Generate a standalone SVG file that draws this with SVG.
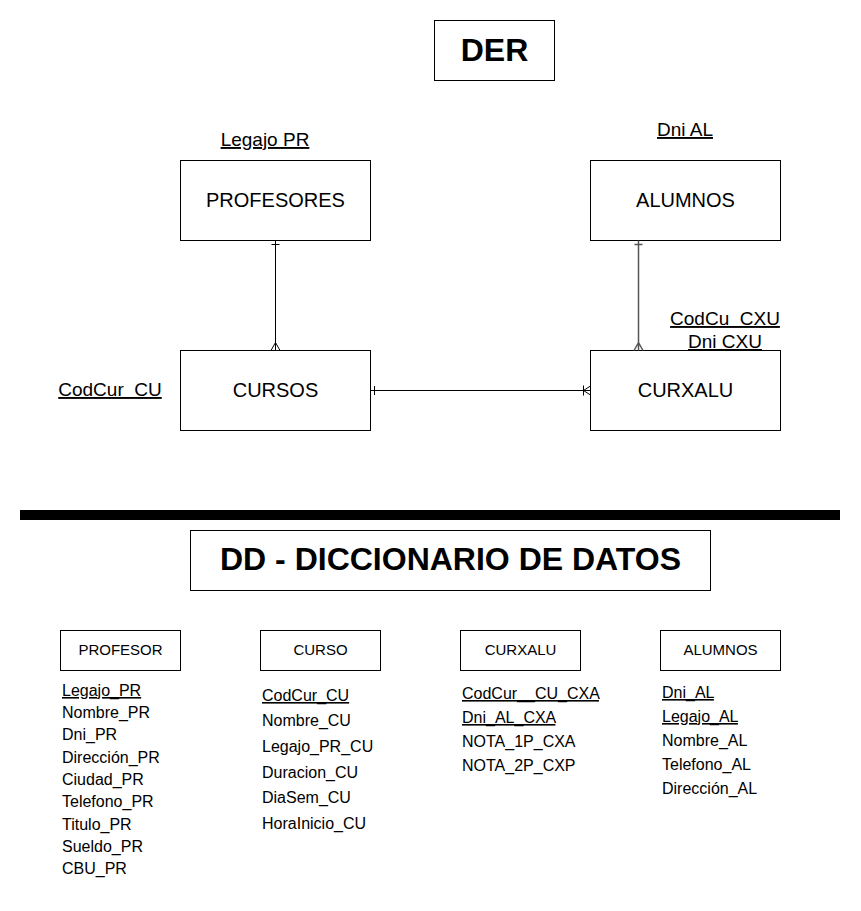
<svg xmlns="http://www.w3.org/2000/svg" width="861" height="911" viewBox="0 0 861 911">
<style>
  .box{fill:#fff;stroke:#000;stroke-width:1}
  .t{font-family:"Liberation Sans",Arial,sans-serif;fill:#000}
  .big{font-size:32px;font-weight:bold;text-anchor:middle}
  .ent{font-size:20px;text-anchor:middle}
  .lbl{font-size:19px;text-anchor:middle;text-decoration:underline}
  .hdr{font-size:15px;text-anchor:middle}
  .att{font-size:16px}
  .u{text-decoration:underline}
  .ln{fill:none;stroke:#000;stroke-width:1}
</style>
<rect width="861" height="911" fill="#fff"/>
<g id="title-der">
  <rect class="box" x="434.5" y="20.5" width="120" height="60"/>
  <text class="t big" x="494.5" y="61">DER</text>
</g>
<g id="profesores">
  <rect class="box" x="180.5" y="160.5" width="190" height="80"/>
  <text class="t ent" x="275.5" y="207">PROFESORES</text>
  <text class="t lbl" x="265" y="146">Legajo PR</text>
</g>
<g id="alumnos">
  <rect class="box" x="590.5" y="160.5" width="190" height="80"/>
  <text class="t ent" x="685.5" y="207">ALUMNOS</text>
  <text class="t lbl" x="685" y="136">Dni AL</text>
</g>
<g id="cursos">
  <rect class="box" x="180.5" y="350.5" width="190" height="80"/>
  <text class="t ent" x="275.5" y="397">CURSOS</text>
  <text class="t lbl" x="110" y="396" xml:space="preserve">CodCur  CU</text>
</g>
<g id="curxalu">
  <rect class="box" x="590.5" y="350.5" width="190" height="80"/>
  <text class="t ent" x="685.5" y="397">CURXALU</text>
  <text class="t lbl" x="725" y="325" xml:space="preserve">CodCu  CXU</text>
  <text class="t lbl" x="725" y="348">Dni CXU</text>
</g>
<g id="connectors">
  <path class="ln" d="M275.5 240.5 V350.5 M271.5 244.5 H279.5 M275.5 342.5 L271 350.5 M275.5 342.5 L280 350.5"/>
  <path class="ln" d="M638.5 240.5 V350.5 M634.5 244.5 H642.5 M638.5 342.5 L634 350.5 M638.5 342.5 L643 350.5" style="stroke:#555;stroke-width:1.5"/>
  <path class="ln" d="M370.5 390.5 H590.5 M374.5 386 V395 M583.5 390.5 L590.5 386 M583.5 390.5 L590.5 395 M583.5 385.5 V395.5"/>
</g>
<g id="separator">
  <rect x="20" y="510" width="820" height="10" fill="#000"/>
</g>
<g id="title-dd">
  <rect class="box" x="190.5" y="530.5" width="520" height="60"/>
  <text class="t big" x="450.5" y="570">DD - DICCIONARIO DE DATOS</text>
</g>
<g id="dd-profesor">
  <rect class="box" x="60.5" y="630.5" width="120" height="40"/>
  <text class="t hdr" x="120.5" y="655">PROFESOR</text>
  <text class="t att">
    <tspan x="62" y="696" class="u">Legajo_PR</tspan>
    <tspan x="62" y="718">Nombre_PR</tspan>
    <tspan x="62" y="740">Dni_PR</tspan>
    <tspan x="62" y="763">Dirección_PR</tspan>
    <tspan x="62" y="785">Ciudad_PR</tspan>
    <tspan x="62" y="807">Telefono_PR</tspan>
    <tspan x="62" y="830">Titulo_PR</tspan>
    <tspan x="62" y="852">Sueldo_PR</tspan>
    <tspan x="62" y="874">CBU_PR</tspan>
  </text>
</g>
<g id="dd-curso">
  <rect class="box" x="260.5" y="630.5" width="120" height="40"/>
  <text class="t hdr" x="320.5" y="655">CURSO</text>
  <text class="t att">
    <tspan x="262" y="701" class="u">CodCur_CU</tspan>
    <tspan x="262" y="726">Nombre_CU</tspan>
    <tspan x="262" y="752">Legajo_PR_CU</tspan>
    <tspan x="262" y="778">Duracion_CU</tspan>
    <tspan x="262" y="803">DiaSem_CU</tspan>
    <tspan x="262" y="829">HoraInicio_CU</tspan>
  </text>
</g>
<g id="dd-curxalu">
  <rect class="box" x="460.5" y="630.5" width="120" height="40"/>
  <text class="t hdr" x="520.5" y="655">CURXALU</text>
  <text class="t att">
    <tspan x="462" y="699" class="u">CodCur__CU_CXA</tspan>
    <tspan x="462" y="723" class="u">Dni_AL_CXA</tspan>
    <tspan x="462" y="747">NOTA_1P_CXA</tspan>
    <tspan x="462" y="771">NOTA_2P_CXP</tspan>
  </text>
</g>
<g id="dd-alumnos">
  <rect class="box" x="660.5" y="630.5" width="120" height="40"/>
  <text class="t hdr" x="720.5" y="655">ALUMNOS</text>
  <text class="t att">
    <tspan x="662" y="698" class="u">Dni_AL</tspan>
    <tspan x="662" y="722" class="u">Legajo_AL</tspan>
    <tspan x="662" y="746">Nombre_AL</tspan>
    <tspan x="662" y="770">Telefono_AL</tspan>
    <tspan x="662" y="794">Dirección_AL</tspan>
  </text>
</g>
</svg>
